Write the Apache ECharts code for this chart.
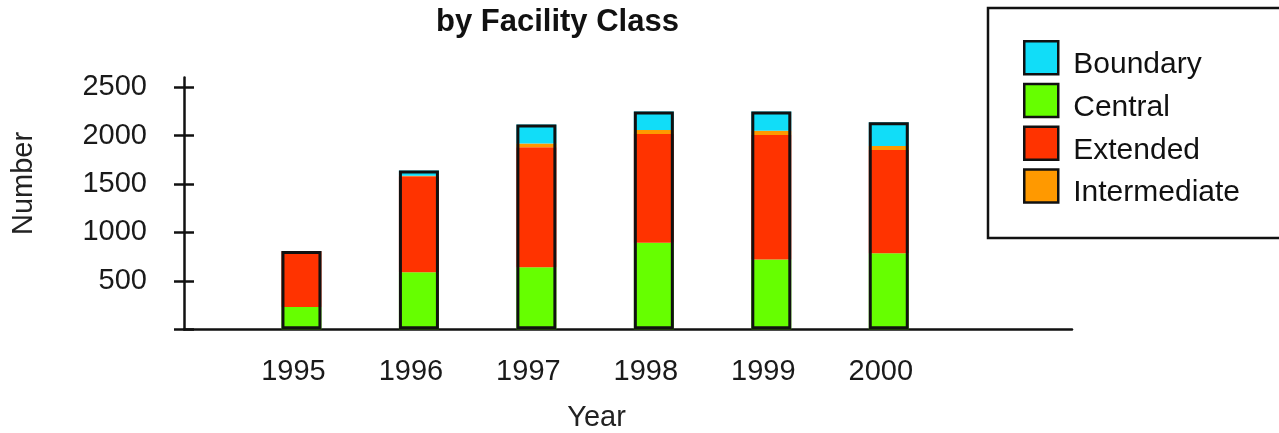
<!DOCTYPE html>
<html>
<head>
<meta charset="utf-8">
<script src="https://cdn.jsdelivr.net/npm/echarts@6/dist/echarts.min.js"></script>
<style>
  html, body { margin: 0; padding: 0; background: #fff; }
  #main { width: 1279px; height: 433px; }
</style>
</head>
<body>
<div id="main"></div>
<script>
// 数据
var years = [1995, 1996, 1997, 1998, 1999, 2000];
var central = [230, 590, 640, 895, 720, 785];
var extended = [575, 990, 1240, 1122, 1287, 1067];
var intermediate = [0, 5, 40, 42, 45, 41];
var boundary = [5, 55, 195, 191, 198, 247];
var yTicks = [0, 500, 1000, 1500, 2000, 2500];
var yLabels = [500, 1000, 1500, 2000, 2500];

var font = "Liberation Sans, Arial, Helvetica, sans-serif";

// 数值放在第0维，让堆叠作用在y上
function pairs(arr) {
  return years.map(function (y, i) { return [arr[i], y]; });
}
// 外框：整根柱子的总高度
var totals = years.map(function (y, i) {
  return central[i] + extended[i] + intermediate[i] + boundary[i];
});

var chart = echarts.init(document.getElementById("main"));

function stackSeries(name, arr, color) {
  return {
    name: name,
    type: "bar",
    stack: "all",
    barWidth: 40,
    encode: { x: 1, y: 0 },
    itemStyle: { color: color },
    data: pairs(arr)
  };
}

var yAxisBase = {
  type: "value",
  min: 0,
  max: 2600,
  interval: 500,
  splitLine: { show: false }
};

var option = {
  animation: false,
  title: {
    text: "by Facility Class",
    left: 436,
    top: 7,
    padding: 0,
    textStyle: { fontFamily: font, fontSize: 31, fontWeight: "bold", color: "#111" }
  },
  legend: {
    orient: "vertical",
    left: 988,
    top: 8,
    padding: [32, 80, 30, 35],
    itemWidth: 34,
    itemHeight: 33,
    itemGap: 3,
    icon: "rect",
    borderColor: "#111",
    borderWidth: 2.5,
    data: ["Boundary", "Central", "Extended", "Intermediate"],
    itemStyle: { borderColor: "#111", borderWidth: 2.5 },
    formatter: "{a|{name}}",
    textStyle: {
      fontFamily: font,
      fontSize: 30,
      color: "#111",
      rich: {
        a: { fontFamily: font, fontSize: 30, color: "#111", padding: [14, 0, 0, 10] }
      }
    }
  },
  grid: {
    left: 184,
    right: 207,
    top: 77.6,
    bottom: 103.7,
    containLabel: false,
    outerBoundsMode: "none"
  },
  xAxis: {
    type: "value",
    min: 1994,
    max: 2001.56,
    interval: 1,
    name: "Year",
    nameLocation: "middle",
    nameGap: 74,
    nameTextStyle: { fontFamily: font, fontSize: 29, color: "#222", padding: [0, 63, 0, 0] },
    axisLine: { show: true, lineStyle: { color: "#111", width: 2.5 } },
    axisTick: { show: false },
    splitLine: { show: false },
    axisLabel: {
      customValues: years,
      margin: 28,
      fontFamily: font,
      fontSize: 29,
      color: "#1a1a1a",
      padding: [0, 16, 0, 0],
      formatter: function (v) { return String(v); }
    }
  },
  yAxis: [
    Object.assign({}, yAxisBase, {
      name: "Number",
      nameLocation: "middle",
      nameGap: 146,
      nameRotate: 90,
      nameTextStyle: { fontFamily: font, fontSize: 29, color: "#222", padding: [0, 0, 0, 40] },
      axisLine: { show: true, lineStyle: { color: "#111", width: 2.5 } },
      axisTick: { show: true, customValues: yTicks, length: 10, lineStyle: { color: "#111", width: 2.5 } },
      axisLabel: {
        customValues: yLabels,
        margin: 37,
        fontFamily: font,
        fontSize: 29,
        color: "#1a1a1a",
        formatter: function (v) { return String(v); }
      }
    }),
    // 第二个轴只用来画向内的刻度，做出穿过轴线的十字刻度
    Object.assign({}, yAxisBase, {
      position: "left",
      axisLine: { show: false },
      axisTick: { show: true, inside: true, customValues: yTicks, length: 10, lineStyle: { color: "#111", width: 2.5 } },
      axisLabel: { show: false }
    })
  ],
  series: [
    stackSeries("Central", central, "#66FF00"),
    stackSeries("Extended", extended, "#FF3300"),
    stackSeries("Intermediate", intermediate, "#FF9900"),
    stackSeries("Boundary", boundary, "#11DDF8"),
    {
      name: "outline",
      type: "bar",
      barWidth: 40,
      barGap: "-100%",
      z: 5,
      encode: { x: 1, y: 0 },
      itemStyle: { color: "rgba(0,0,0,0)", borderColor: "#111", borderWidth: 3 },
      data: pairs(totals)
    }
  ]
};

chart.setOption(option);
</script>
</body>
</html>
